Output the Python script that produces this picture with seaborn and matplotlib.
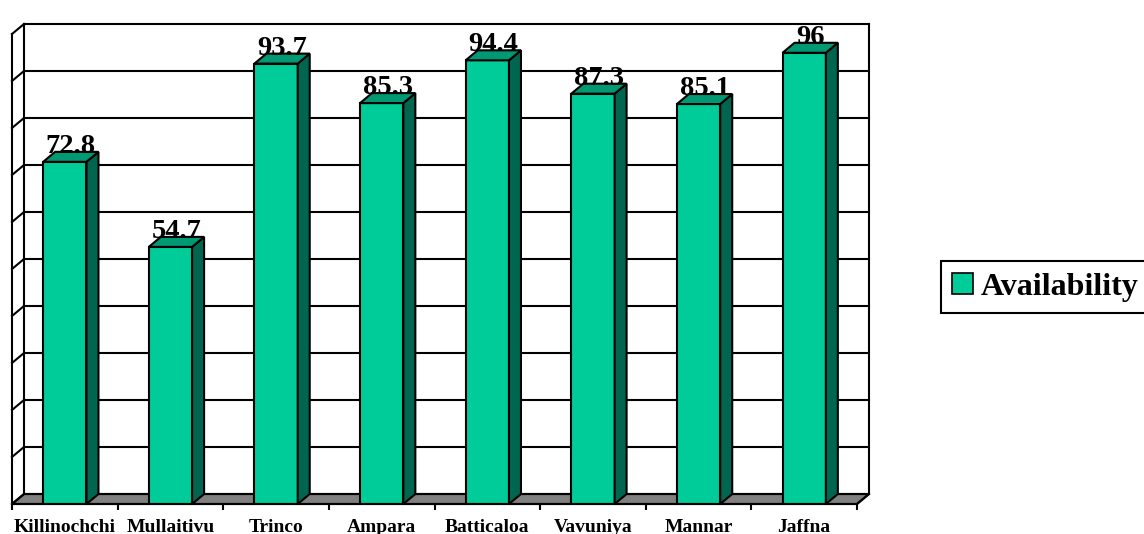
import matplotlib
matplotlib.use("Agg")
import matplotlib.pyplot as plt
from matplotlib.patches import Polygon, Patch
import numpy as np
import pandas as pd
import seaborn as sns

# Data
districts = ["Killinochchi", "Mullaitivu", "Trinco", "Ampara",
             "Batticaloa", "Vavuniya", "Mannar", "Jaffna"]
availability = [72.8, 54.7, 93.7, 85.3, 94.4, 87.3, 85.1, 96]
series_name = "Availability"
grid_values = list(range(0, 101, 10))

# Colours of the three visible faces of each column
FRONT = "#00CC99"
SIDE = "#006650"
TOP = "#009973"
FLOOR = "#808080"
LW = 1.5

sns.set_theme(style="white")
plt.rcParams["font.family"] = ["Liberation Serif", "DejaVu Serif"]
plt.rcParams["font.weight"] = "bold"
plt.rcParams["text.color"] = "black"
plt.rcParams["xtick.color"] = "black"
plt.rcParams["ytick.color"] = "black"
plt.rcParams["axes.labelcolor"] = "black"

W, H, DPI = 1144, 534, 100
fig = plt.figure(figsize=(W / DPI, H / DPI), dpi=DPI)
fig.patch.set_facecolor("white")

# Front plane of the 3-D box, in pixels
x0, x1, ytop, ybot = 12, 857, 34, 504
ax = fig.add_axes([x0 / W, 1 - ybot / H, (x1 - x0) / W, (ybot - ytop) / H])
ax.set_facecolor("none")

df = pd.DataFrame({"district": districts, "value": availability})
sns.barplot(data=df, x="district", y="value", color=FRONT, saturation=1,
            width=0.41, edgecolor="black", linewidth=LW, zorder=3, ax=ax)
front_bars = list(ax.containers[0])

n = len(districts)
xmin, xmax = -0.5, n - 0.5
ax.set_xlim(xmin, xmax)
ax.set_ylim(0, 100)

# Depth of the box (pixels -> data units)
DX_PX, DY_PX = 12, 10
dx = DX_PX * (xmax - xmin) / (x1 - x0)
dy = DY_PX * 100 / (ybot - ytop)

line_kw = dict(color="black", lw=LW, clip_on=False, solid_capstyle="projecting")

# Floor
ax.add_patch(Polygon([(xmin, 0), (xmax, 0), (xmax + dx, dy), (xmin + dx, dy)],
                     closed=True, facecolor=FLOOR, edgecolor="black",
                     lw=LW, clip_on=False, zorder=1))

# Back wall gridlines and side-wall diagonals
for v in grid_values:
    ax.plot([xmin + dx, xmax + dx], [v + dy, v + dy], zorder=1.5, **line_kw)
    ax.plot([xmin, xmin + dx], [v, v + dy], zorder=1.5, **line_kw)
ax.plot([xmin + dx, xmin + dx], [dy, 100 + dy], zorder=1.5, **line_kw)
ax.plot([xmax + dx, xmax + dx], [dy, 100 + dy], zorder=1.5, **line_kw)
ax.plot([xmin, xmin], [0, 100], zorder=1.5, **line_kw)
ax.plot([xmax, xmax + dx], [0, dy], zorder=1.5, **line_kw)

# Side and top faces for each column
for bar in front_bars:
    bx, bw, bh = bar.get_x(), bar.get_width(), bar.get_height()
    r = bx + bw
    side = Polygon([(r, 0), (r + dx, dy), (r + dx, bh + dy), (r, bh)],
                   closed=True, facecolor=SIDE, edgecolor="black",
                   lw=LW, zorder=3, clip_on=False)
    top = Polygon([(bx, bh), (r, bh), (r + dx, bh + dy), (bx + dx, bh + dy)],
                  closed=True, facecolor=TOP, edgecolor="black",
                  lw=LW, zorder=3, clip_on=False)
    ax.add_patch(side)
    ax.add_patch(top)

# Value labels
for i, v in enumerate(availability):
    ax.text(i + dx / 2, v + 1.9, f"{v:g}", ha="center", va="baseline",
            fontsize=20.5, fontweight="bold", color="black", zorder=6,
            clip_on=False)

# Axes styling
for name, sp in ax.spines.items():
    sp.set_visible(name == "bottom")
ax.spines["bottom"].set_color("black")
ax.spines["bottom"].set_linewidth(LW)
ax.spines["bottom"].set_zorder(5)
ax.set_yticks([])
ax.set_xlabel("")
ax.set_ylabel("")
ax.set_xticks(range(n))
ax.set_xticklabels(districts, fontsize=14, fontweight="bold", color="black")
ax.set_xticks(np.arange(xmin, xmax + 0.01, 1), minor=True)
ax.tick_params(axis="x", which="major", bottom=True, length=0, pad=11)
ax.tick_params(axis="x", which="minor", bottom=True, length=4.5,
               width=LW, color="black", direction="out")

# Legend
handle = Patch(facecolor=FRONT, edgecolor="black", linewidth=1.2,
               label=series_name)
leg = fig.legend(handles=[handle], loc="center left",
                 bbox_to_anchor=(941 / W, 1 - 287 / H),
                 bbox_transform=fig.transFigure,
                 prop={"family": ["Liberation Serif"], "weight": "bold",
                       "size": 23},
                 frameon=True, fancybox=False, framealpha=1,
                 edgecolor="black", borderpad=0.35, handlelength=0.65,
                 handleheight=0.65, handletextpad=0.25, borderaxespad=0)
leg.get_frame().set_linewidth(LW)
for t in leg.get_texts():
    t.set_color("black")

fig.savefig("out.png", dpi=DPI)
